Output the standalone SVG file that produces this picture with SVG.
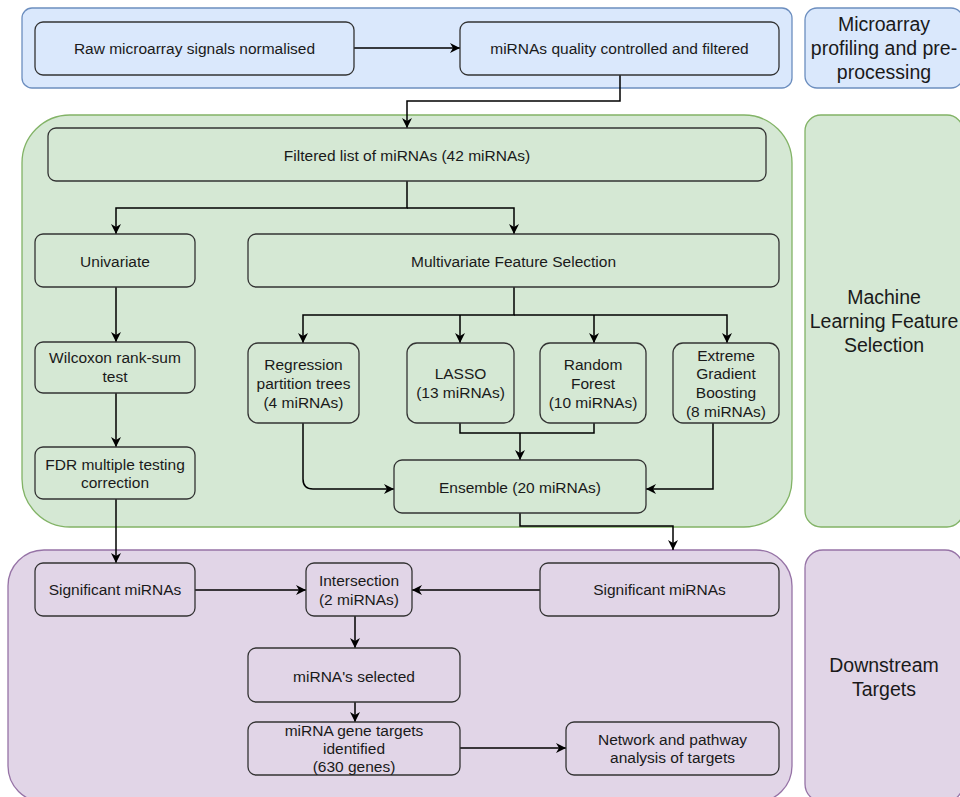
<svg xmlns="http://www.w3.org/2000/svg" width="960" height="797" viewBox="0 0 960 797">
<style>
text{font-family:"Liberation Sans",Arial,sans-serif;fill:#1a1a1a;text-anchor:middle}
.t{font-size:15.5px}
.l{font-size:19.5px}
.blue{fill:#dae8fc;stroke:#6c8ebf;stroke-width:1.3}
.green{fill:#d5e8d4;stroke:#82b366;stroke-width:1.3}
.purple{fill:#e1d5e7;stroke:#9673a6;stroke-width:1.3}
.nb{fill:#dae8fc;stroke:#333;stroke-width:1.3}
.ng{fill:#d5e8d4;stroke:#333;stroke-width:1.3}
.np{fill:#e1d5e7;stroke:#333;stroke-width:1.3}
.c{fill:none;stroke:#000;stroke-width:1.5}
.a{marker-end:url(#arr)}
</style>
<defs>
<marker id="arr" markerUnits="userSpaceOnUse" markerWidth="12" markerHeight="12" refX="10" refY="5" orient="auto">
<path d="M0,0 L10,5 L0,10 L3,5 z" fill="#000"/>
</marker>
</defs>
<g id="containers">
<rect id="lane-blue" class="blue" x="22" y="8" width="770" height="80" rx="10"/>
<rect id="label-blue" class="blue" x="805" y="8" width="158" height="80" rx="12"/>
<rect id="lane-green" class="green" x="22" y="115" width="770" height="412" rx="48"/>
<rect id="label-green" class="green" x="805" y="115" width="158" height="412" rx="16"/>
<rect id="lane-purple" class="purple" x="8" y="550" width="784" height="252" rx="36"/>
<rect id="label-purple" class="purple" x="805" y="550" width="158" height="252" rx="18"/>
</g>
<g id="labels">
<text class="l" x="884" y="31">Microarray</text>
<text class="l" x="884" y="55">profiling and pre-</text>
<text class="l" x="884" y="79">processing</text>
<text class="l" x="884" y="304">Machine</text>
<text class="l" x="884" y="328">Learning Feature</text>
<text class="l" x="884" y="352">Selection</text>
<text class="l" x="884" y="672">Downstream</text>
<text class="l" x="884" y="696">Targets</text>
</g>
<g id="connectors">
<path class="c a" d="M354,48 H460"/>
<path class="c a" d="M620,75 V101 H407 V128"/>
<path class="c a" d="M407,181 V208 H116 V234"/>
<path class="c a" d="M407,208 H514 V234"/>
<path class="c a" d="M116,287 V342"/>
<path class="c a" d="M116,393 V447"/>
<path class="c a" d="M116,499 V563"/>
<path class="c a" d="M514,287 V315 H303 V343"/>
<path class="c a" d="M514,315 H727 V343"/>
<path class="c a" d="M460,315 V343"/>
<path class="c a" d="M594,315 V343"/>
<path class="c a" d="M303,423 V479 Q303,489 313,489 H394"/>
<path class="c" d="M460,423 V433 H594 V423"/>
<path class="c a" d="M520,433 V460"/>
<path class="c a" d="M713,423 V489 H646"/>
<path class="c a" d="M520,513 V526 H673 V550"/>
<path class="c a" d="M195,590 H306"/>
<path class="c a" d="M540,590 H412"/>
<path class="c a" d="M355,616 V648"/>
<path class="c a" d="M355,702 V722"/>
<path class="c a" d="M460,748 H566"/>
</g>
<g id="n-raw"><rect class="nb" x="35" y="22" width="319" height="53" rx="8"/><text class="t" x="194.5" y="53.5">Raw microarray signals normalised</text></g>
<g id="n-qc"><rect class="nb" x="460" y="22" width="319" height="53" rx="8"/><text class="t" x="619.5" y="53.5">miRNAs quality controlled and filtered</text></g>
<g id="n-filtered"><rect class="ng" x="48" y="128" width="718" height="53" rx="8"/><text class="t" x="407" y="160.5">Filtered list of miRNAs (42 miRNAs)</text></g>
<g id="n-univariate"><rect class="ng" x="35" y="234" width="160" height="53" rx="8"/><text class="t" x="115" y="266.5">Univariate</text></g>
<g id="n-multivariate"><rect class="ng" x="248" y="234" width="531" height="53" rx="8"/><text class="t" x="513.5" y="266.5">Multivariate Feature Selection</text></g>
<g id="n-wilcoxon"><rect class="ng" x="35" y="342" width="160" height="51" rx="8"/><text class="t" x="115" y="363">Wilcoxon rank-sum</text><text class="t" x="115" y="382">test</text></g>
<g id="n-fdr"><rect class="ng" x="35" y="447" width="160" height="52" rx="8"/><text class="t" x="115" y="470">FDR multiple testing</text><text class="t" x="115" y="488">correction</text></g>
<g id="n-regression"><rect class="ng" x="248" y="343" width="111" height="80" rx="10"/><text class="t" x="303.5" y="370">Regression</text><text class="t" x="303.5" y="389">partition trees</text><text class="t" x="303.5" y="408">(4 miRNAs)</text></g>
<g id="n-lasso"><rect class="ng" x="407" y="343" width="107" height="80" rx="10"/><text class="t" x="460.5" y="379">LASSO</text><text class="t" x="460.5" y="398">(13 miRNAs)</text></g>
<g id="n-rf"><rect class="ng" x="540" y="343" width="106" height="80" rx="10"/><text class="t" x="593" y="370">Random</text><text class="t" x="593" y="389">Forest</text><text class="t" x="593" y="408">(10 miRNAs)</text></g>
<g id="n-xgb"><rect class="ng" x="673" y="343" width="106" height="80" rx="10"/><text class="t" x="726" y="360.5">Extreme</text><text class="t" x="726" y="379">Gradient</text><text class="t" x="726" y="398">Boosting</text><text class="t" x="726" y="417">(8 miRNAs)</text></g>
<g id="n-ensemble"><rect class="ng" x="394" y="460" width="252" height="53" rx="8"/><text class="t" x="520" y="493">Ensemble (20 miRNAs)</text></g>
<g id="n-sig-left"><rect class="np" x="35" y="563" width="160" height="53" rx="8"/><text class="t" x="115" y="595">Significant miRNAs</text></g>
<g id="n-intersection"><rect class="np" x="306" y="563" width="106" height="53" rx="8"/><text class="t" x="359" y="586">Intersection</text><text class="t" x="359" y="605">(2 miRNAs)</text></g>
<g id="n-sig-right"><rect class="np" x="540" y="563" width="239" height="53" rx="8"/><text class="t" x="659.5" y="595">Significant miRNAs</text></g>
<g id="n-selected"><rect class="np" x="248" y="648" width="212" height="54" rx="8"/><text class="t" x="354" y="682">miRNA's selected</text></g>
<g id="n-targets"><rect class="np" x="248" y="722" width="212" height="53" rx="8"/><text class="t" x="354" y="736">miRNA gene targets</text><text class="t" x="354" y="754">identified</text><text class="t" x="354" y="772">(630 genes)</text></g>
<g id="n-network"><rect class="np" x="566" y="722" width="213" height="53" rx="8"/><text class="t" x="672.5" y="745">Network and pathway</text><text class="t" x="672.5" y="763">analysis of targets</text></g>
</svg>
